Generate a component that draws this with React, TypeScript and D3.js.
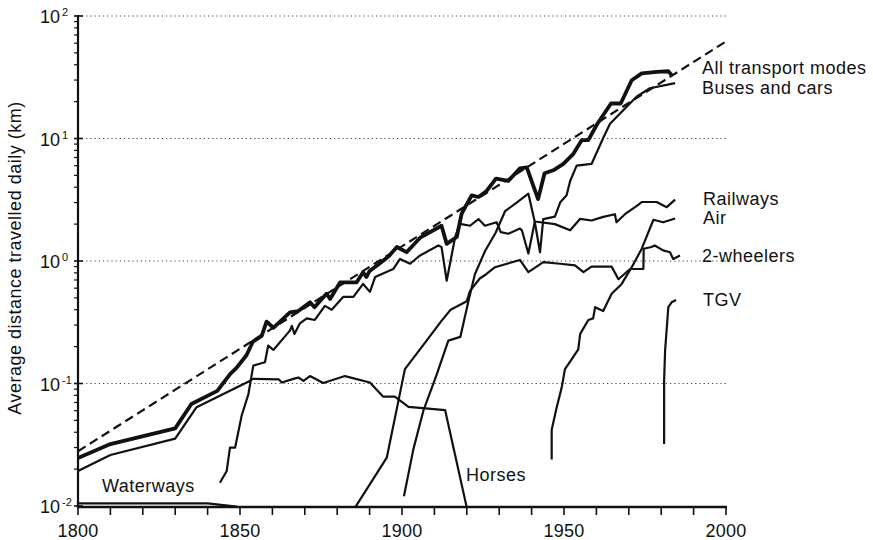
import React from 'react';
import * as d3 from 'd3';

type Pt = [number, number];

// ---- data (year, km per day) ----
const trendLine: Pt[] = [[1800, 0.028], [2000, 62]];

const allModes: Pt[] = [
  [1800, 0.0246], [1810, 0.032], [1830, 0.043], [1835, 0.068], [1843, 0.087], [1847, 0.12],
  [1849, 0.135], [1852, 0.17], [1854, 0.22], [1856.7, 0.245], [1858.2, 0.32], [1860.3, 0.285],
  [1865.4, 0.38], [1868, 0.39], [1871.6, 0.46], [1873, 0.42], [1876.7, 0.54], [1877.8, 0.49],
  [1880.9, 0.67], [1886, 0.67], [1888, 0.81], [1889, 0.74], [1890, 0.83], [1893, 0.95],
  [1896, 1.1], [1898.4, 1.3], [1901.4, 1.18], [1905.6, 1.55], [1912.2, 1.94], [1913.8, 1.38],
  [1916.9, 1.57], [1918.4, 2.43], [1921.5, 3.43], [1923.6, 3.33], [1926, 3.7], [1929, 4.7],
  [1932.8, 4.5], [1936.4, 5.7], [1938.5, 5.8], [1942, 3.2], [1944, 5.2], [1946.7, 5.5],
  [1949.8, 6.2], [1952.9, 7.5], [1955.5, 9.7], [1957.5, 9.7], [1960.3, 13.2], [1964.5, 19.3],
  [1967.5, 19.3], [1970.9, 29.9], [1974, 34], [1978.6, 35], [1982.2, 35.4], [1983.2, 33]
];

const busesCars: Pt[] = [
  [1900.6, 0.012], [1903.5, 0.029], [1906.6, 0.06], [1910.7, 0.118], [1914.3, 0.224], [1918, 0.24],
  [1920.5, 0.47], [1922.5, 0.78], [1925.6, 1.2], [1928.9, 1.7], [1931.8, 2.55], [1935.4, 3.0],
  [1939, 3.55], [1941, 2.07], [1942.6, 1.18], [1943.6, 2.2], [1947.2, 2.3], [1948.8, 3.0],
  [1950.8, 3.44], [1951.9, 4.5], [1953.9, 6.0], [1958.5, 6.2], [1962.1, 10.1], [1964.2, 13.2],
  [1967.3, 16.0], [1972.4, 21.9], [1976.5, 25.7], [1984.3, 28.3]
];

const railways: Pt[] = [
  [1843.8, 0.0155], [1845.9, 0.0193], [1846.9, 0.03], [1848.5, 0.03], [1850.5, 0.0545],
  [1852.6, 0.082], [1854.1, 0.14], [1857.7, 0.149], [1858.7, 0.204], [1860.3, 0.188],
  [1865.4, 0.27], [1866, 0.295], [1866.8, 0.254], [1868.5, 0.31], [1870.6, 0.34], [1873.1, 0.33],
  [1876.2, 0.43], [1878.3, 0.4], [1881.9, 0.51], [1885, 0.51], [1888, 0.65], [1890.1, 0.56],
  [1891.7, 0.74], [1897.3, 0.86], [1899.4, 1.04], [1902.5, 0.95], [1905.6, 1.11], [1911.2, 1.34],
  [1912.2, 1.3], [1913.8, 0.69], [1916.4, 1.57], [1917.9, 2.01], [1921, 1.94], [1923.6, 2.2],
  [1925.6, 1.94], [1929.2, 2.07], [1930.5, 1.72], [1932.8, 1.67], [1936.4, 1.84], [1937, 1.78],
  [1939, 1.15], [1941, 2.1], [1947.2, 2.0], [1951.9, 1.78], [1955, 2.21], [1958.5, 2.14],
  [1962.1, 2.29], [1965.7, 2.41], [1966.2, 2.07], [1968.8, 2.41], [1972.7, 2.84], [1974, 3.03],
  [1978.6, 3.03], [1981.7, 2.75], [1984.3, 3.17]
];

const air: Pt[] = [
  [1946.2, 0.024], [1946.2, 0.042], [1947.7, 0.063], [1949.3, 0.093], [1950.3, 0.131],
  [1952.4, 0.158], [1954.4, 0.19], [1955, 0.254], [1957.5, 0.33], [1959, 0.34], [1959.6, 0.42],
  [1962.1, 0.39], [1964.7, 0.54], [1967.8, 0.65], [1970.9, 0.89], [1974, 1.26], [1977.6, 2.17],
  [1980.6, 2.07], [1984.3, 2.22]
];

const twoWheelers: Pt[] = [
  [1885.5, 0.0097], [1895.3, 0.0248], [1900.9, 0.131], [1907.6, 0.224], [1912, 0.32],
  [1915, 0.4], [1920, 0.47], [1921, 0.57], [1924, 0.72], [1926, 0.78], [1928.7, 0.89],
  [1936.4, 1.02], [1939, 0.81], [1943.6, 0.98], [1948.8, 0.95], [1953.4, 0.92], [1956, 0.81],
  [1958.5, 0.9], [1964.7, 0.9], [1966.8, 0.71], [1970.4, 0.86], [1974.5, 0.86], [1974.6, 1.26],
  [1977, 1.3], [1978, 1.34], [1980.6, 1.22], [1982.7, 1.18], [1983.7, 1.04], [1985.8, 1.11]
];

const tgv: Pt[] = [
  [1980.9, 0.032], [1980.9, 0.105], [1981.2, 0.185], [1982.2, 0.42], [1983.2, 0.46], [1984.6, 0.48]
];

const horses: Pt[] = [
  [1800, 0.0193], [1810, 0.0261], [1830, 0.0355], [1836.6, 0.064], [1853, 0.105], [1854, 0.109],
  [1862, 0.108], [1862.9, 0.102], [1866.5, 0.109], [1868, 0.112], [1869.6, 0.105], [1871.6, 0.115],
  [1875.7, 0.101], [1882.4, 0.115], [1890.1, 0.102], [1894.2, 0.078], [1897.8, 0.078],
  [1902, 0.0645], [1913.3, 0.0607], [1920, 0.0097]
];

const waterways: Pt[] = [[1800, 0.0105], [1840, 0.0105], [1849, 0.0099]];

const xTickYears = d3.range(1800, 2001, 10);
const xLabelYears = [1800, 1850, 1900, 1950, 2000];
const yExponents = [-2, -1, 0, 1, 2];
const yGridValues = [0.1, 1, 10, 100];

const seriesLabels: { text: string; x: number; y: number }[] = [
  { text: 'All transport modes', x: 702, y: 74 },
  { text: 'Buses and cars', x: 702, y: 94 },
  { text: 'Railways', x: 703, y: 205 },
  { text: 'Air', x: 703, y: 224 },
  { text: '2-wheelers', x: 702, y: 262 },
  { text: 'TGV', x: 703, y: 306 },
  { text: 'Waterways', x: 102, y: 492 },
  { text: 'Horses', x: 466, y: 481 }
];

const FONT = '"Liberation Sans", Arial, Helvetica, sans-serif';

export default function App() {
  const W = 873, H = 540;
  const x = d3.scaleLinear().domain([1800, 2000]).range([78, 726]);
  const y = d3.scaleLog().domain([0.01, 100]).range([506, 16]);
  const line = d3.line<Pt>().x(d => x(d[0])).y(d => y(d[1]));

  const minor: number[] = [];
  for (let e = -2; e < 2; e++) for (let k = 2; k <= 9; k++) minor.push(k * Math.pow(10, e));

  const thin = { fill: 'none', stroke: '#111', strokeWidth: 2.2, strokeLinejoin: 'round' as const };

  return (
    <svg width={W} height={H} style={{ position: 'absolute', left: 0, top: 0, background: '#fff' }}
      fontFamily={FONT}>
      <defs>
        <clipPath id="plot">
          <rect x={78} y={10} width={660} height={498} />
        </clipPath>
      </defs>
      <rect width={W} height={H} fill="#fff" />
      {/* grid */}
      {yGridValues.map(v => (
        <line key={v} x1={82} x2={x(2000)} y1={y(v)} y2={y(v)} stroke="#444" strokeWidth={1}
          strokeDasharray="1.2,3" />
      ))}
      {/* series */}
      <g clipPath="url(#plot)">
        <path d={line(trendLine) || ''} fill="none" stroke="#111" strokeWidth={2.2} strokeDasharray="9,5" />
        <path d={line(waterways) || ''} {...thin} />
        <path d={line(horses) || ''} {...thin} />
        <path d={line(railways) || ''} {...thin} />
        <path d={line(twoWheelers) || ''} {...thin} />
        <path d={line(busesCars) || ''} {...thin} />
        <path d={line(air) || ''} {...thin} />
        <path d={line(tgv) || ''} {...thin} />
        <path d={line(allModes) || ''} fill="none" stroke="#111" strokeWidth={3.8} strokeLinejoin="round" />
      </g>
      {/* axes */}
      <line x1={78} x2={78} y1={15} y2={508} stroke="#111" strokeWidth={2.2} />
      <line x1={77} x2={x(2000) + 1} y1={507} y2={507} stroke="#111" strokeWidth={2.4} />
      {xTickYears.map(t => (
        <line key={t} x1={x(t)} x2={x(t)} y1={507} y2={515} stroke="#111" strokeWidth={1.6} />
      ))}
      {xLabelYears.map(t => (
        <text key={t} x={x(t)} y={537} textAnchor="middle" fontSize={18} letterSpacing={0.3} fill="#111">{t}</text>
      ))}
      {minor.map(v => (
        <line key={v} x1={74} x2={79} y1={y(v)} y2={y(v)} stroke="#111" strokeWidth={1.2} />
      ))}
      {yExponents.map(e => (
        <g key={e}>
          <line x1={74} x2={83} y1={y(Math.pow(10, e))} y2={y(Math.pow(10, e))} stroke="#111" strokeWidth={1.6} />
          <text x={40} y={y(Math.pow(10, e)) + 7} fontSize={18} fill="#111">10</text>
          <text x={62} y={y(Math.pow(10, e))} fontSize={11} fill="#111">{e}</text>
        </g>
      ))}
      <text transform="translate(21,258) rotate(-90)" textAnchor="middle" fontSize={18}
        letterSpacing={0.5} fill="#111">Average distance travelled daily (km)</text>
      {seriesLabels.map(l => (
        <text key={l.text} x={l.x} y={l.y} fontSize={18} letterSpacing={0.5} fill="#111">{l.text}</text>
      ))}
    </svg>
  );
}
